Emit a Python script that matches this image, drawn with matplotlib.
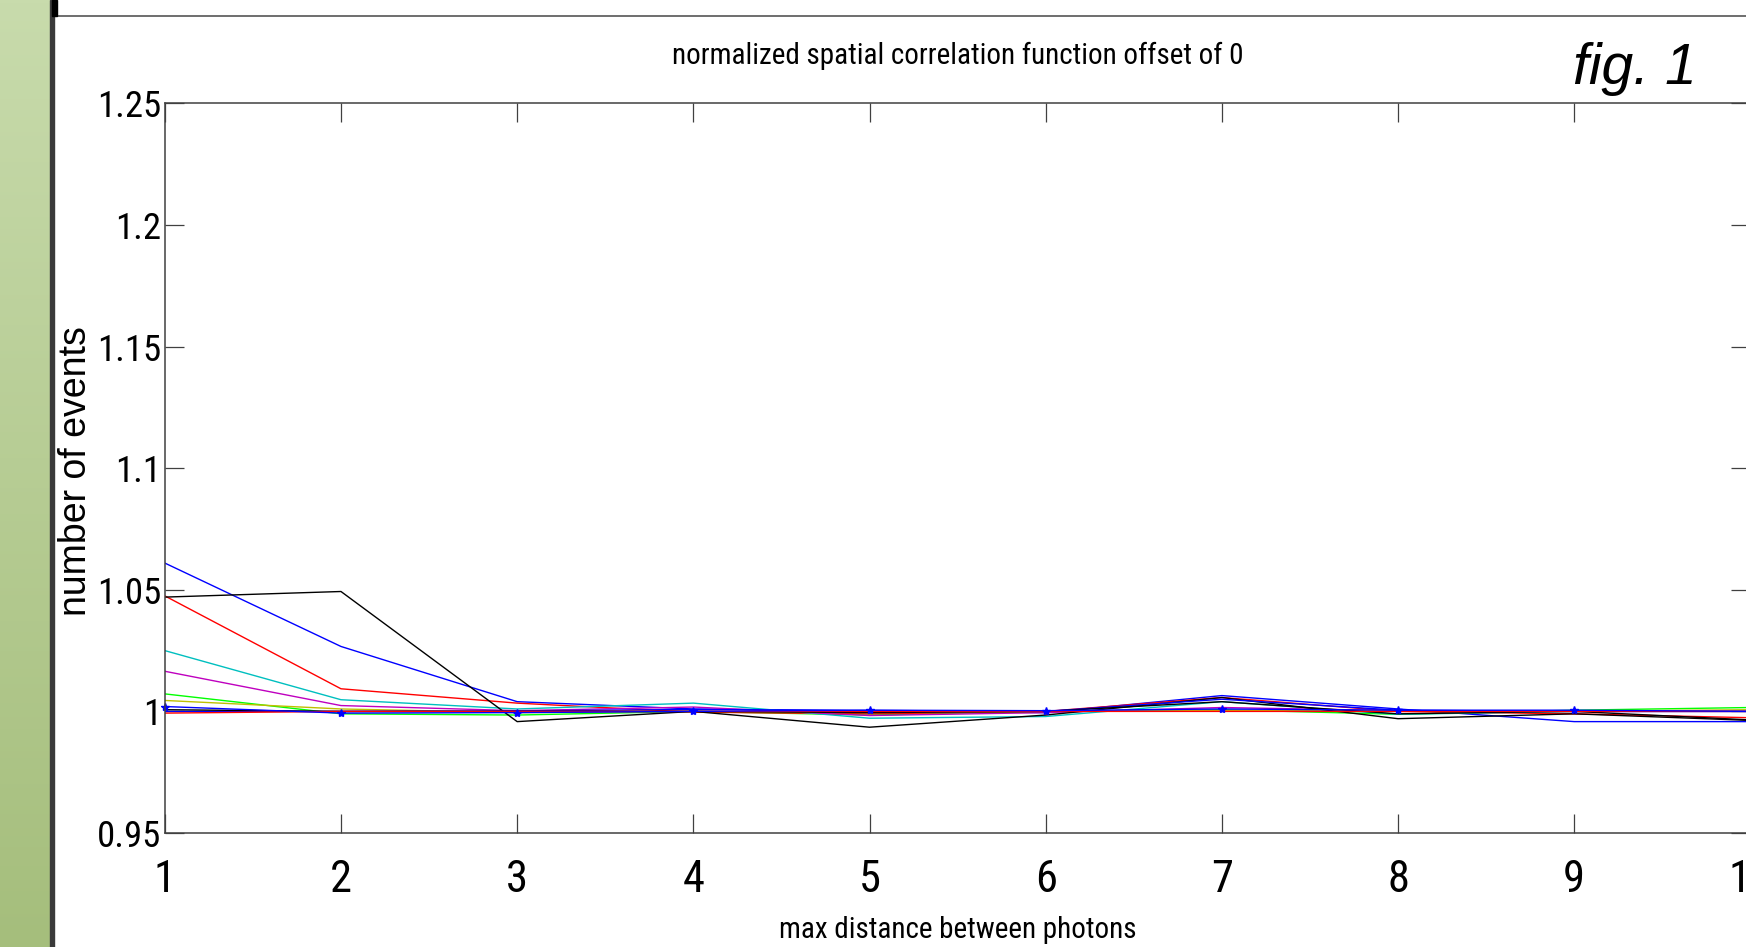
import numpy as np
import matplotlib
matplotlib.use('Agg')
import matplotlib.pyplot as plt

# distances (x axis)
dist = [1, 2, 3, 4, 5, 6, 7, 8, 9, 10]

# normalized correlation curves
blue_a = [1.0610, 1.0267, 1.0040, 1.0010, 1.0002, 0.9995, 1.0065, 1.0010, 0.9958, 0.9958]
green_a = [1.0072, 0.9990, 0.9985, 1.0000, 0.9985, 1.0000, 1.0007, 0.9988, 1.0005, 1.0016]
red_a = [1.0475, 1.0093, 1.0034, 0.9997, 0.9990, 1.0000, 1.0057, 1.0000, 0.9990, 0.9974]
cyan_a = [1.0250, 1.0048, 1.0010, 1.0034, 0.9972, 0.9979, 1.0040, 0.9988, 1.0000, 1.0000]
magenta_a = [1.0165, 1.0024, 1.0003, 1.0018, 0.9983, 0.9995, 1.0016, 1.0003, 1.0000, 1.0000]
yellow_a = [1.0045, 1.0010, 0.9995, 1.0000, 0.9995, 1.0000, 1.0003, 1.0003, 1.0000, 1.0007]
black_a = [1.0470, 1.0493, 0.9958, 1.0000, 0.9935, 0.9985, 1.0057, 0.9970, 0.9990, 0.9963]
blue_b = [1.0000, 1.0000, 1.0002, 1.0008, 1.0004, 1.0000, 1.0050, 1.0005, 1.0000, 1.0000]
black_b = [1.0007, 1.0000, 1.0000, 1.0000, 0.9995, 1.0000, 1.0040, 0.9990, 1.0000, 0.9965]
red_b = [0.9993, 1.0000, 1.0000, 1.0000, 1.0000, 1.0000, 1.0000, 1.0000, 1.0000, 1.0000]
mean_star = [1.0020, 0.9993, 0.9995, 1.0000, 1.0005, 1.0003, 1.0010, 1.0005, 1.0005, 1.0000]

yticks = [0.95, 1.0, 1.05, 1.1, 1.15, 1.2, 1.25]
ytick_labels = ['0.95', '1', '1.05', '1.1', '1.15', '1.2', '1.25']

narrow = ['Roboto Condensed', 'Archivo Narrow', 'Liberation Sans', 'DejaVu Sans']
plain = ['Liberation Sans', 'DejaVu Sans']
W, H = 1746, 947

fig = plt.figure(figsize=(W / 100, H / 100), dpi=100)
fig.patch.set_facecolor('white')

# green slide bar on the left
bar = fig.add_axes([0, 0, 50 / W, 1])
grad = np.linspace(0, 1, 256).reshape(-1, 1)
top_c = np.array([200, 219, 172]) / 255
bot_c = np.array([165, 190, 124]) / 255
img = top_c[None, None, :] * (1 - grad[..., None]) + bot_c[None, None, :] * grad[..., None]
bar.imshow(img, aspect='auto', extent=[0, 1, 0, 1])
bar.axis('off')

# dark edge and top frame line
fig.patches.append(plt.Rectangle((50 / W, 0), 4 / W, 1, transform=fig.transFigure,
                                 color='#3a3a3a', zorder=5))
fig.patches.append(plt.Rectangle((52 / W, 1 - 16 / H), 5 / W, 16 / H, transform=fig.transFigure,
                                 color='black', zorder=6))
fig.lines.append(plt.Line2D([55 / W, 1], [1 - 16.5 / H, 1 - 16.5 / H], transform=fig.transFigure,
                            color='#555555', lw=1.2))

# main axes (right spine sits just past the image edge)
ax = fig.add_axes([164.8 / W, 114 / H, (1750.4 - 164.8) / W, (833.2 - 103.6) / H])
series = [(blue_a, 'b'), (green_a, '#00ff00'), (red_a, 'r'), (cyan_a, 'c'),
          (magenta_a, 'm'), (yellow_a, 'y'), (black_a, 'k'),
          (blue_b, 'b'), (black_b, 'k'), (red_b, 'r')]
for vals, col in series:
    ax.plot(dist, vals, color=col, lw=1.0)
ax.plot(dist, mean_star, color='b', lw=1.0, marker='*', markersize=6, clip_on=False)

ax.set_xlim(1, 10)
ax.set_ylim(0.95, 1.25)
ax.set_xticks(dist)
ax.set_yticks(yticks)
ax.set_yticklabels(ytick_labels, family=narrow, fontsize=26.5)
ax.set_xticklabels([str(d) for d in dist], family=narrow, fontsize=32)
ax.tick_params(direction='in', top=True, right=True, length=13.7, width=0.9,
               color='#404040')
ax.tick_params(axis='y', pad=2.5)
ax.tick_params(axis='x', pad=19)
for sp in ax.spines.values():
    sp.set_color('#404040')
    sp.set_linewidth(1.1)

# texts
fig.text(957.6 / W, 1 - 63.5 / H, 'normalized spatial correlation function offset of 0',
         family=narrow, fontsize=21, ha='center', va='baseline')
fig.text(957.6 / W, 1 - 937.6 / H, 'max distance between photons',
         family=narrow, fontsize=21, ha='center', va='baseline')
fig.text(76.5 / W, 1 - 471 / H, 'number of events', family=plain,
         fontsize=27, rotation=90, ha='center', va='center')
fig.text(1573 / W, 1 - 83.5 / H, 'fig. 1', family=plain,
         style='italic', fontsize=41, ha='left', va='baseline')

fig.savefig('out.png', dpi=100)
